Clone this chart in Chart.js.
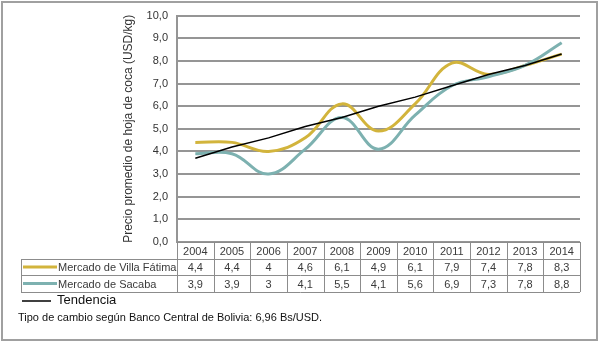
<!DOCTYPE html>
<html lang="es">
<head>
<meta charset="UTF-8">
<title>Precio promedio de hoja de coca</title>
<script src="https://cdn.jsdelivr.net/npm/chart.js"></script>
<style>
  html, body { margin: 0; padding: 0; background: #fff; }
  canvas { display: block; }
</style>
</head>
<body>
<canvas id="cocaChart" width="600" height="343"></canvas>
<script>
  const years = ['2004', '2005', '2006', '2007', '2008', '2009', '2010', '2011', '2012', '2013', '2014'];
  const villaFatima = [4.4, 4.4, 4, 4.6, 6.1, 4.9, 6.1, 7.9, 7.4, 7.8, 8.3];
  const sacaba = [3.9, 3.9, 3, 4.1, 5.5, 4.1, 5.6, 6.9, 7.3, 7.8, 8.8];
  // trend line
  const tendencia = [3.7, 4.2, 4.6, 5.1, 5.5, 6.0, 6.4, 6.9, 7.4, 7.8, 8.3];
  const yTickLabels = ['0,0', '1,0', '2,0', '3,0', '4,0', '5,0', '6,0', '7,0', '8,0', '9,0', '10,0'];

  const GOLD = '#d2b43c';
  const TEAL = '#7db1b0';
  const GRID = '#959595';
  const FONT = "'Liberation Sans', Arial, sans-serif";

  const fmt = v => String(v).replace('.', ',');

  // draws the data table, legend and footnote under the plot
  const tablePlugin = {
    id: 'dataTable',
    afterDraw(chart) {
      const { ctx, chartArea, scales: { x } } = chart;
      const colW = x.getPixelForValue(1) - x.getPixelForValue(0);
      const top = chartArea.bottom;
      const rows = [top, top + 17, top + 33, top + 50];
      const left = 21;
      const tableLeft = chartArea.left;
      const tableRight = chartArea.right;

      ctx.save();
      ctx.strokeStyle = '#8c8c8c';
      ctx.lineWidth = 1;

      // horizontal lines
      ctx.beginPath();
      ctx.moveTo(tableLeft, rows[0] + 0.5); ctx.lineTo(tableRight, rows[0] + 0.5);
      for (let r = 1; r < rows.length; r++) {
        ctx.moveTo(left, rows[r] + 0.5); ctx.lineTo(tableRight, rows[r] + 0.5);
      }
      // vertical lines
      ctx.moveTo(left + 0.5, rows[1]); ctx.lineTo(left + 0.5, rows[3]);
      for (let i = 0; i <= years.length; i++) {
        const px = Math.round(tableLeft + i * colW) + 0.5;
        ctx.moveTo(px, rows[0]); ctx.lineTo(px, rows[3]);
      }
      ctx.stroke();

      ctx.font = '11px ' + FONT;
      ctx.fillStyle = '#3a3a3a';
      ctx.textAlign = 'center';
      ctx.textBaseline = 'middle';
      years.forEach((yr, i) => {
        const cx = x.getPixelForValue(i);
        ctx.fillText(yr, cx, (rows[0] + rows[1]) / 2 + 1);
        ctx.fillText(fmt(villaFatima[i]), cx, (rows[1] + rows[2]) / 2 + 1);
        ctx.fillText(fmt(sacaba[i]), cx, (rows[2] + rows[3]) / 2 + 1);
      });

      // series legend in the table
      const series = [
        { name: 'Mercado de Villa Fátima', color: GOLD, y: (rows[1] + rows[2]) / 2 },
        { name: 'Mercado de Sacaba', color: TEAL, y: (rows[2] + rows[3]) / 2 }
      ];
      ctx.textAlign = 'left';
      series.forEach(s => {
        ctx.strokeStyle = s.color;
        ctx.lineWidth = 3;
        ctx.beginPath();
        ctx.moveTo(23, s.y); ctx.lineTo(57, s.y);
        ctx.stroke();
        ctx.fillText(s.name, 58, s.y + 1);
      });

      // trend legend
      ctx.strokeStyle = '#000';
      ctx.lineWidth = 1.5;
      ctx.beginPath();
      ctx.moveTo(22, 301); ctx.lineTo(51, 301);
      ctx.stroke();
      ctx.fillStyle = '#111';
      ctx.font = '13px ' + FONT;
      ctx.fillText('Tendencia', 57, 300);

      ctx.font = '11px ' + FONT;
      ctx.fillText('Tipo de cambio según Banco Central de Bolivia: 6,96 Bs/USD.', 18, 318);

      // outer frame
      ctx.strokeStyle = '#a0a0a0';
      ctx.lineWidth = 2;
      ctx.strokeRect(2, 2, 595, 338);
      ctx.restore();
    }
  };

  new Chart(document.getElementById('cocaChart'), {
    type: 'line',
    data: {
      labels: years,
      datasets: [
        { label: 'Tendencia', data: tendencia, borderColor: '#000', borderWidth: 1.5, tension: 0, pointRadius: 0, order: 0 },
        { label: 'Mercado de Sacaba', data: sacaba, borderColor: TEAL, borderWidth: 3, tension: 0.4, pointRadius: 0, order: 1 },
        { label: 'Mercado de Villa Fátima', data: villaFatima, borderColor: GOLD, borderWidth: 3, tension: 0.4, pointRadius: 0, order: 2 }
      ]
    },
    options: {
      responsive: false,
      animation: false,
      layout: { padding: { left: 100, right: 20, top: 10, bottom: 101 } },
      plugins: { legend: { display: false }, tooltip: { enabled: false } },
      scales: {
        x: {
          offset: true,
          grid: { display: false },
          border: { display: false },
          ticks: { display: false },
          afterFit(scale) { scale.height = 0; }
        },
        y: {
          min: 0,
          max: 10,
          ticks: {
            stepSize: 1,
            padding: 9,
            color: '#333',
            font: { family: FONT, size: 11 },
            callback: (v, i) => yTickLabels[i]
          },
          grid: { color: GRID, lineWidth: 2, drawTicks: false },
          border: { display: true, color: GRID, width: 2 },
          title: {
            display: true,
            text: 'Precio promedio de hoja de coca (USD/kg)',
            color: '#333',
            font: { family: FONT, size: 12 },
            padding: { top: 21, bottom: 0 }
          },
          afterFit(scale) { scale.width = 77; }
        }
      }
    },
    plugins: [tablePlugin]
  });
</script>
</body>
</html>
